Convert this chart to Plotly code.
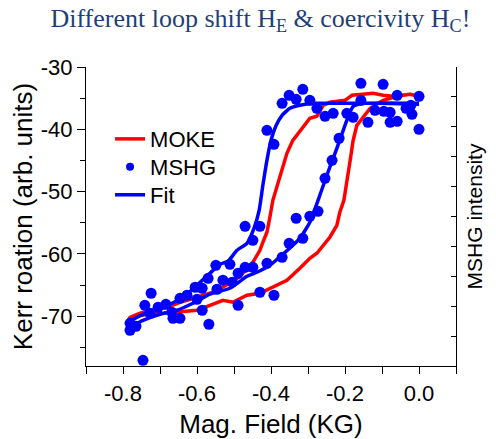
import plotly.graph_objects as go

# ---- data ----
moke_x = [0.0, -0.024, -0.070, -0.097, -0.124, -0.159, -0.181, -0.200, -0.241, -0.259,
          -0.276, -0.295, -0.314, -0.341, -0.357, -0.376, -0.384, -0.395, -0.403, -0.411,
          -0.422, -0.430, -0.449, -0.465, -0.484, -0.511, -0.557, -0.600, -0.646, -0.681,
          -0.719, -0.754, -0.781, -0.786,
          -0.781, -0.754, -0.700, -0.646, -0.600, -0.565, -0.530, -0.503, -0.465, -0.430,
          -0.403, -0.376, -0.357, -0.322, -0.295, -0.276, -0.241, -0.222, -0.214, -0.203,
          -0.195, -0.186, -0.178, -0.168, -0.151, -0.132, -0.097, -0.059, -0.024, 0.0]
moke_y = [-34.70, -34.38, -34.70, -34.54, -34.22, -34.38, -34.54, -35.35, -35.67, -36.15,
          -37.91, -38.23, -39.68, -41.77, -43.86, -47.71, -48.99, -51.40, -54.12, -56.53,
          -58.14, -59.42, -61.35, -62.31, -63.60, -64.71, -66.16, -66.96, -67.77, -68.57,
          -69.05, -69.53, -70.18, -70.66,
          -70.34, -69.85, -69.53, -69.21, -69.05, -68.25, -67.45, -67.77, -66.64, -66.32,
          -65.52, -64.87, -64.23, -62.31, -60.71, -59.90, -57.33, -55.41, -53.32, -51.40,
          -48.67, -44.98, -41.77, -39.36, -38.07, -36.63, -35.35, -34.70, -34.38, -34.70]

fit_x = [0.0, -0.105, -0.214, -0.286, -0.322, -0.349, -0.370, -0.386, -0.400, -0.411,
         -0.422, -0.432, -0.446, -0.465, -0.492, -0.516, -0.538, -0.565, -0.600, -0.638,
         -0.673, -0.719, -0.762, -0.786,
         -0.786, -0.746, -0.700, -0.654, -0.611, -0.565, -0.511, -0.465, -0.438, -0.403,
         -0.368, -0.322, -0.295, -0.268, -0.249, -0.222, -0.195, -0.178, -0.146, 0.0]
fit_y = [-35.99, -35.83, -35.83, -35.83, -36.15, -36.63, -37.75, -39.36, -41.77, -44.98,
         -48.99, -53.00, -55.89, -58.30, -59.42, -61.19, -61.67, -63.11, -65.04, -66.96,
         -68.09, -69.05, -70.18, -71.14,
         -71.78, -70.66, -69.69, -69.05, -67.93, -66.48, -65.52, -63.60, -62.95, -61.83,
         -60.06, -57.50, -54.93, -50.59, -47.38, -43.05, -38.56, -36.31, -35.83, -35.83]

mshg_x = [-0.746, -0.781, -0.781, -0.765, -0.741, -0.724, -0.727, -0.705, -0.684, -0.668,
          -0.665, -0.646, -0.646, -0.627, -0.605, -0.586, -0.600, -0.586, -0.568, -0.570,
          -0.549, -0.546, -0.530, -0.511, -0.505, -0.489, -0.489, -0.470, -0.430, -0.449,
          -0.470, -0.449, -0.411, -0.430, -0.392, -0.370, -0.351, -0.314, -0.332, -0.295,
          -0.273, -0.254, -0.235, -0.216, -0.411, -0.392, -0.370, -0.351, -0.332, -0.314,
          -0.295, -0.276, -0.254, -0.232, -0.195, -0.178, -0.157, -0.157, -0.138, -0.119,
          -0.097, -0.095, -0.078, -0.078, -0.059, -0.059, -0.035, -0.022, -0.019, 0.0, 0.0]
mshg_y = [-77.08, -71.14, -72.26, -71.62, -68.25, -66.32, -69.53, -68.57, -68.09, -69.37,
          -70.34, -70.34, -67.13, -66.64, -65.36, -65.52, -67.29, -69.05, -71.30, -63.92,
          -61.83, -65.68, -64.23, -61.67, -64.55, -63.11, -68.25, -55.57, -55.57, -57.82,
          -62.15, -62.15, -61.51, -66.16, -66.64, -60.55, -58.30, -57.50, -54.28, -53.96,
          -53.16, -47.87, -44.98, -41.44, -40.16, -42.41, -35.83, -34.54, -35.18, -33.58,
          -35.35, -36.63, -37.91, -37.43, -37.43, -38.07, -32.62, -35.35, -38.88, -36.95,
          -32.78, -37.11, -37.27, -38.88, -34.54, -38.72, -36.63, -36.15, -37.59, -34.70, -40.00]

x_tick_vals = [-0.8, -0.6, -0.4, -0.2, 0.0]
x_tick_text = ["-0.8", "-0.6", "-0.4", "-0.2", "0.0"]
y_tick_vals = [-70, -60, -50, -40, -30]
y_tick_text = ["-70", "-60", "-50", "-40", "-30"]

RED = "#ff0000"
BLUE = "#0000ff"

fig = go.Figure()
fig.add_trace(go.Scatter(x=moke_x, y=moke_y, mode="lines", name="MOKE",
                         line=dict(color=RED, width=3.5), legend="legend"))
fig.add_trace(go.Scatter(x=mshg_x, y=mshg_y, mode="markers", name="MSHG",
                         marker=dict(color=BLUE, size=11), showlegend=False))
fig.add_trace(go.Scatter(x=[None], y=[None], mode="markers", name="MSHG",
                         marker=dict(color=BLUE, size=8), legend="legend2"))
fig.add_trace(go.Scatter(x=fit_x, y=fit_y, mode="lines", name="Fit",
                         line=dict(color=BLUE, width=3.5, shape="spline", smoothing=0.5),
                         legend="legend3"))
fig.add_trace(go.Scatter(x=[None], y=[None], yaxis="y2", showlegend=False,
                         hoverinfo="skip", mode="markers"))

axis_common = dict(showline=True, linecolor="black", linewidth=1.3, showgrid=False,
                   zeroline=False, tickcolor="black", tickwidth=1.3, automargin=False)

leg_common = dict(xanchor="left", yanchor="middle", bgcolor="rgba(0,0,0,0)",
                  font=dict(size=22), x=0.065)

fig.update_layout(
    width=496, height=439,
    margin=dict(l=86, r=40, t=67, b=73),
    paper_bgcolor="white", plot_bgcolor="white",
    font=dict(family="Liberation Sans, Arial, sans-serif", size=22, color="black"),
    title=dict(text="Different loop shift H<sub>E</sub> &amp; coercivity H<sub>C</sub>!",
               font=dict(family="Liberation Serif, Times New Roman, serif", size=26,
                         color="#1f3f78"),
               x=0.525, xanchor="center", xref="container",
               y=0.96, yanchor="middle", yref="container"),
    showlegend=True,
    legend=dict(y=0.759, **leg_common),
    legend2=dict(y=0.666, **leg_common),
    legend3=dict(y=0.572, **leg_common),
    xaxis=dict(range=[-0.9, 0.1], tickmode="array", tickvals=x_tick_vals,
               ticktext=x_tick_text, ticks="outside", ticklen=7,
               minor=dict(dtick=0.1, tick0=0, ticks="outside", ticklen=7,
                          tickcolor="black", tickwidth=1.3),
               title=dict(text="Mag. Field (KG)", standoff=12),
               **axis_common),
    yaxis=dict(range=[-78, -30], tickmode="array", tickvals=y_tick_vals,
               ticktext=y_tick_text, ticks="outside", ticklen=8,
               minor=dict(dtick=5, tick0=0, ticks="outside", ticklen=5,
                          tickcolor="black", tickwidth=1.3),
               title=dict(text="Kerr roation (arb. units)", standoff=0),
               **axis_common),
    yaxis2=dict(overlaying="y", side="right", range=[0, 10], dtick=1, tick0=0,
                ticks="inside", ticklen=5, showticklabels=False,
                title=dict(text="MSHG intensity", font=dict(size=21), standoff=11),
                **axis_common),
)

fig.write_html("out.html")
